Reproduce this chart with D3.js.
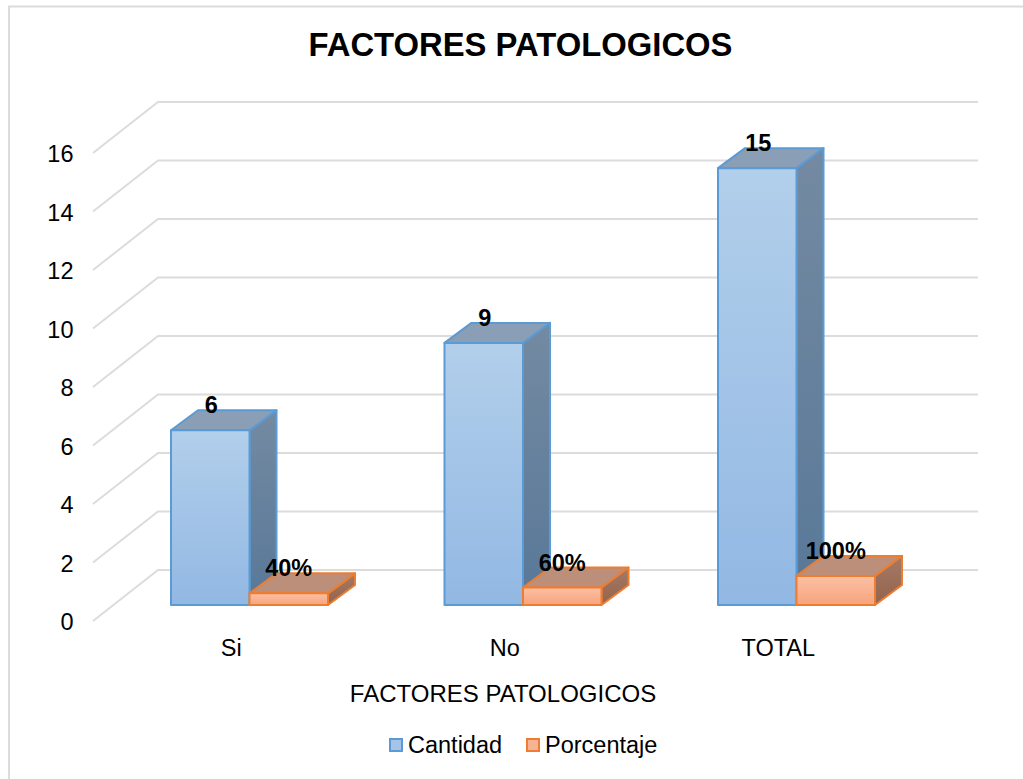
<!DOCTYPE html>
<html><head><meta charset="utf-8">
<script src="https://cdnjs.cloudflare.com/ajax/libs/d3/7.8.5/d3.min.js"></script>
<style>html,body{margin:0;padding:0;background:#fff}svg{display:block}text{font-family:"Liberation Sans",Arial,sans-serif;fill:#000}</style>
</head><body><svg id="c" width="1023" height="779"></svg>
<script>
const categories=["Si","No","TOTAL"];
const cantidad=[6,9,15];
const porcentaje=[0.4,0.6,1];
const porcentajeLabels=["40%","60%","100%"];
const seriesNames=["Cantidad","Porcentaje"];
const yTicks=[0,2,4,6,8,10,12,14,16];
const svg=d3.select("#c");
const defs=svg.append("defs");
function grad(id,a,b){const g=defs.append("linearGradient").attr("id",id).attr("x1",0).attr("y1",0).attr("x2",0).attr("y2",1);
 g.append("stop").attr("offset","0%").attr("stop-color",a);g.append("stop").attr("offset","100%").attr("stop-color",b);}
grad("bf","#b2cfeb","#92b8e3");grad("bs","#748aa2","#587898");
grad("of","#fbc0a4","#f7a47c");grad("os","#a47a66","#94634c");
svg.append("path").attr("d","M9,779V6.5H1023").attr("fill","none").attr("stroke","#dcdcdc").attr("stroke-width",2);
const yFront=d3.scaleLinear().domain([0,16]).range([621,153]);
const yBack=d3.scaleLinear().domain([0,16]).range([570,102]);
const yBar=d3.scaleLinear().domain([0,16]).range([605,139]);
const x0=d3.scaleBand().domain(categories).range([112.5,933]);
const x1=d3.scaleBand().domain(seriesNames).range([58.5,215.5]);
const grid=svg.append("g").attr("fill","none").attr("stroke","#dcdcdc").attr("stroke-width",2);
yTicks.forEach(t=>{
 grid.append("path").attr("d",`M93,${yFront(t)}L158,${yBack(t)}L978,${yBack(t)}`);
});
const ya=svg.append("g").attr("transform","translate(73.5,0)").call(d3.axisLeft(yFront).tickValues(yTicks).tickSize(0).tickPadding(0));
ya.select(".domain").remove();
ya.selectAll("text").attr("font-size",23.5).attr("dy","0.35em").style("font-family",'"Liberation Sans"').attr("y",0.5);
const DX=27,DY=20;
const series=[
 {name:seriesNames[0],vals:cantidad,f:"url(#bf)",s:"url(#bs)",t:"#8a9eb6",e:"#5b9bd5"},
 {name:seriesNames[1],vals:porcentaje,f:"url(#of)",s:"url(#os)",t:"#bb8f79",e:"#ed7d31"}];
series.forEach(se=>{
 const g=svg.append("g").attr("stroke",se.e).attr("stroke-width",2).attr("stroke-linejoin","round");
 categories.forEach((c,i)=>{
  const x=x0(c)+x1(se.name),w=x1.bandwidth(),yt=yBar(se.vals[i]),yb=yBar(0);
  g.append("path").attr("fill",se.s).attr("d",`M${x+w},${yt}L${x+w+DX},${yt-DY}L${x+w+DX},${yb-DY}L${x+w},${yb}Z`);
  g.append("path").attr("fill",se.t).attr("d",`M${x},${yt}L${x+DX},${yt-DY}L${x+w+DX},${yt-DY}L${x+w},${yt}Z`);
  g.append("rect").attr("x",x).attr("y",yt).attr("width",w).attr("height",yb-yt).attr("fill",se.f);
 });
});
categories.forEach((c,i)=>{
 const x=x0(c)+x1(seriesNames[0]),w=x1.bandwidth();
 svg.append("text").attr("x",x+w/2+1).attr("y",yBar(cantidad[i])-17).attr("text-anchor","middle").attr("font-size",23.5).attr("font-weight","bold").text(cantidad[i]);
 const x2=x0(c)+x1(seriesNames[1]);
 svg.append("text").attr("x",x2+w/2).attr("y",yBar(porcentaje[i])-17).attr("text-anchor","middle").attr("font-size",23.5).attr("font-weight","bold").text(porcentajeLabels[i]);
});
categories.forEach(c=>{
 svg.append("text").attr("x",x0(c)+x0.bandwidth()/2-18).attr("y",656).attr("text-anchor","middle").attr("font-size",23.5).text(c);
});
svg.append("text").attr("x",503).attr("y",702).attr("text-anchor","middle").attr("font-size",24).text("FACTORES PATOLOGICOS");
svg.append("text").attr("x",520.5).attr("y",56).attr("text-anchor","middle").attr("font-size",32.8).attr("font-weight","bold").text("FACTORES PATOLOGICOS");
const lx=[390,527];
series.forEach((se,i)=>{
 svg.append("rect").attr("x",lx[i]).attr("y",739).attr("width",12).attr("height",12).attr("fill",i?"#f7b393":"#a6c4e6").attr("stroke",se.e).attr("stroke-width",2);
 svg.append("text").attr("x",lx[i]+18).attr("y",753).attr("font-size",23.5).text(se.name);
});
</script></body></html>
